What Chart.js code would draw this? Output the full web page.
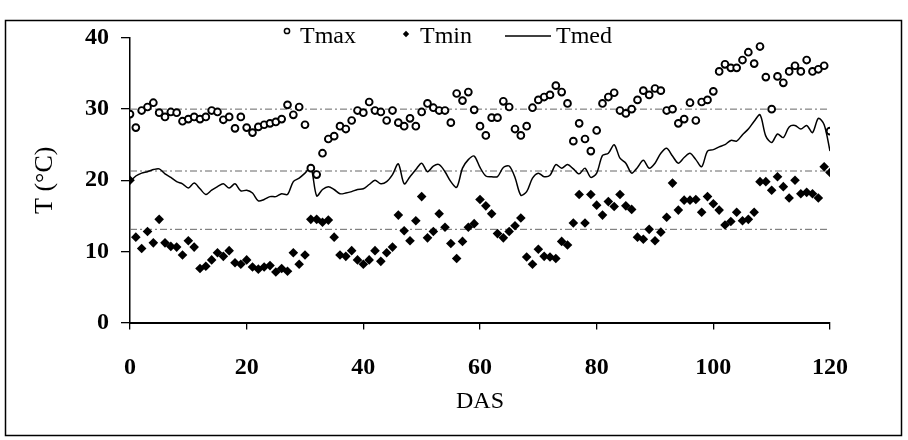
<!DOCTYPE html>
<html><head><meta charset="utf-8">
<script src="https://cdn.jsdelivr.net/npm/chart.js@4.4.0/dist/chart.umd.min.js"></script>
<style>
html,body{margin:0;padding:0;background:#fff;}
#wrap{position:relative;width:908px;height:440px;}
canvas{display:block;}
</style></head><body>
<div id="wrap"><canvas id="c" width="908" height="440"></canvas></div>
<script>
// Days after sowing (categories)
const days = Array.from({length: 121}, (_, i) => i);

const tmax = [
29.3, 27.4, 29.8, 30.3, 30.9, 29.5, 28.9, 29.6, 29.5, 28.3,
28.6, 28.9, 28.6, 28.9, 29.8, 29.6, 28.5, 28.9, 27.3, 28.9,
27.4, 26.7, 27.5, 27.8, 28.0, 28.2, 28.6, 30.6, 29.2, 30.3,
27.8, 21.7, 20.8, 23.8, 25.8, 26.2, 27.6, 27.2, 28.4, 29.8,
29.5, 31.0, 29.8, 29.6, 28.4, 29.8, 28.1, 27.6, 28.7, 27.6,
29.6, 30.8, 30.2, 29.8, 29.8, 28.1, 32.2, 31.2, 32.4, 29.9,
27.6, 26.3, 28.8, 28.8, 31.1, 30.3, 27.2, 26.3, 27.6, 30.2,
31.3, 31.7, 32.0, 33.3, 32.4, 30.8, 25.5, 28.0, 25.8, 24.1,
27.0, 30.8, 31.7, 32.3, 29.8, 29.4, 30.0, 31.3, 32.6, 32.0,
32.9, 32.6, 29.8, 30.0, 28.0, 28.6, 30.9, 28.4, 31.0, 31.3,
32.5, 35.3, 36.3, 35.8, 35.8, 36.9, 38.0, 36.4, 38.8, 34.5,
30.0, 34.6, 33.7, 35.3, 36.1, 35.3, 36.9, 35.3, 35.6, 36.1,
26.9];

const tmin = [
20.0, 12.0, 10.4, 12.8, 11.2, 14.5, 11.2, 10.7, 10.6, 9.5,
11.5, 10.6, 7.6, 7.9, 8.8, 9.8, 9.3, 10.1, 8.4, 8.2,
8.8, 7.8, 7.5, 7.8, 8.0, 7.1, 7.6, 7.2, 9.8, 8.2,
9.5, 14.5, 14.5, 14.1, 14.4, 12.0, 9.5, 9.3, 10.1, 8.8,
8.2, 8.8, 10.1, 8.6, 9.8, 10.6, 15.1, 12.9, 11.5, 14.3,
17.7, 11.9, 12.8, 15.3, 13.4, 11.1, 9.0, 11.4, 13.4, 13.9,
17.3, 16.4, 15.3, 12.5, 11.9, 12.8, 13.6, 14.7, 9.2, 8.2,
10.3, 9.3, 9.2, 9.0, 11.4, 10.9, 14.0, 18.0, 14.0, 18.0,
16.5, 15.1, 17.0, 16.3, 18.0, 16.4, 15.9, 12.0, 11.7, 13.1,
11.5, 12.7, 14.8, 19.6, 15.8, 17.2, 17.2, 17.3, 15.5, 17.7,
16.7, 15.8, 13.7, 14.2, 15.5, 14.3, 14.5, 15.5, 19.8, 19.8,
18.6, 20.5, 19.1, 17.5, 20.0, 18.1, 18.3, 18.1, 17.5, 21.9,
21.1];

const tmed = [
19.8, 20.6, 21.0, 21.2, 21.5, 21.6, 20.9, 20.4, 19.8, 19.5,
18.9, 19.6, 18.8, 18.0, 18.6, 19.1, 19.5, 18.9, 19.5, 18.5,
18.6, 18.2, 17.1, 17.3, 17.7, 17.7, 18.1, 18.0, 19.8, 20.3,
21.0, 21.8, 17.8, 18.7, 19.1, 18.7, 18.1, 18.2, 18.4, 18.7,
18.8, 19.4, 20.0, 19.5, 19.8, 20.8, 22.3, 19.5, 20.5, 21.5,
22.4, 21.2, 22.0, 22.2, 21.2, 19.8, 19.0, 21.7, 22.9, 23.4,
21.8, 20.6, 20.5, 20.5, 21.8, 22.0, 20.4, 17.9, 18.4, 20.3,
21.0, 20.5, 20.7, 22.2, 21.7, 22.2, 21.6, 20.9, 21.7, 20.4,
21.0, 23.5, 23.8, 25.0, 23.1, 22.4, 21.0, 21.8, 22.8, 21.7,
22.4, 23.8, 24.5, 23.4, 22.4, 23.2, 23.8, 22.9, 21.9, 24.1,
24.3, 24.7, 25.0, 25.6, 25.5, 26.4, 27.2, 28.3, 29.2, 26.2,
25.3, 26.5, 26.0, 27.5, 27.7, 27.2, 27.7, 26.7, 28.7, 27.8,
24.1];

// Reference (mean) lines: Tmax, Tmed, Tmin
const meanValues = [30.0, 21.3, 13.1];
const seriesNames = ['Tmax', 'Tmin', 'Tmed'];
const xRange = [0, 120];
const yRange = [0, 40];

const FAMILY = "'Liberation Serif', 'Times New Roman', Tinos, serif";

const toPts = arr => arr.map((v, i) => ({x: days[i], y: v}));

function build() {
  const meanSets = meanValues.map(v => ({
    type: 'line',
    label: 'mean ' + v,
    data: [{x: xRange[0], y: v}, {x: xRange[1], y: v}],
    borderColor: '#666',
    borderWidth: 1,
    borderDash: [7, 3, 2, 3],
    pointRadius: 0,
    fill: false
  }));

  const borderPlugin = {
    id: 'figBorder',
    beforeDraw(chart) {
      const ctx = chart.ctx;
      ctx.save();
      ctx.fillStyle = '#fff';
      ctx.fillRect(0, 0, chart.width, chart.height);
      ctx.strokeStyle = '#000';
      ctx.lineWidth = 1.5;
      ctx.strokeRect(5.5, 20.5, 896, 415);
      ctx.restore();
    }
  };

  const legendPlugin = {
    id: 'figLegend',
    afterDraw(chart) {
      const ctx = chart.ctx;
      ctx.save();
      ctx.font = '24px ' + FAMILY;
      ctx.textBaseline = 'middle';
      ctx.textAlign = 'left';
      ctx.fillStyle = '#fff'; ctx.strokeStyle = '#000'; ctx.lineWidth = 1.5;
      Chart.helpers.drawPoint(ctx, {pointStyle: 'circle', radius: 2.6, borderWidth: 1.5}, 287, 31);
      ctx.fillStyle = '#000';
      ctx.fillText(seriesNames[0], 300, 37);
      Chart.helpers.drawPoint(ctx, {pointStyle: 'rectRot', radius: 3.2, borderWidth: 0}, 406, 34);
      ctx.fillText(seriesNames[1], 420, 37);
      ctx.beginPath(); ctx.moveTo(505, 36); ctx.lineTo(551, 36); ctx.lineWidth = 1.3; ctx.stroke();
      ctx.fillText(seriesNames[2], 556, 37);
      ctx.restore();
    }
  };

  new Chart(document.getElementById('c'), {
    type: 'scatter',
    data: {
      datasets: [
        {
          label: seriesNames[0],
          data: toPts(tmax),
          pointStyle: 'circle',
          pointRadius: 3.4,
          pointBorderWidth: 1.9,
          pointBackgroundColor: '#fff',
          pointBorderColor: '#000',
          showLine: false
        },
        {
          label: seriesNames[1],
          data: toPts(tmin),
          pointStyle: 'rectRot',
          pointRadius: 4.8,
          pointBorderWidth: 0,
          pointBackgroundColor: '#000',
          pointBorderColor: '#000',
          showLine: false
        },
        {
          type: 'line',
          label: seriesNames[2],
          data: toPts(tmed),
          borderColor: '#000',
          borderWidth: 1.5,
          pointRadius: 0,
          tension: 0.3,
          fill: false
        },
        ...meanSets
      ]
    },
    options: {
      responsive: false,
      animation: false,
      devicePixelRatio: 1,
      layout: {padding: {left: 0, top: 38, right: 78, bottom: 0}},
      plugins: {legend: {display: false}, tooltip: {enabled: false}},
      scales: {
        x: {
          type: 'linear',
          min: xRange[0], max: xRange[1],
          afterFit: s => { s.height = 117.5; },
          ticks: {
            stepSize: 20, color: '#000', padding: 24, maxRotation: 0,
            font: {family: FAMILY, size: 24, weight: 'bold'}
          },
          grid: {drawOnChartArea: false, drawTicks: true, tickLength: 7, color: '#000', lineWidth: 1.3},
          border: {display: true, color: '#000', width: 2},
          title: {
            display: true, text: 'DAS', color: '#000',
            font: {family: FAMILY, size: 24},
            padding: {top: 0, bottom: 24}
          }
        },
        y: {
          type: 'linear',
          min: yRange[0], max: yRange[1],
          afterFit: s => { s.width = 130; },
          ticks: {
            stepSize: 10, color: '#000', padding: 12,
            font: {family: FAMILY, size: 24, weight: 'bold'}
          },
          grid: {drawOnChartArea: false, drawTicks: true, tickLength: 9, color: '#000', lineWidth: 1.3},
          border: {display: true, color: '#000', width: 1.5},
          title: {
            display: true, text: 'T (°C)', color: '#000',
            font: {family: FAMILY, size: 26},
            padding: {top: 30, bottom: 0}
          }
        }
      }
    },
    plugins: [borderPlugin, legendPlugin]
  });
}

const loads = [
  "24px 'Liberation Serif'", "bold 24px 'Liberation Serif'"
].map(f => (document.fonts && document.fonts.load) ? document.fonts.load(f).catch(() => null) : Promise.resolve());
Promise.all(loads).then(build, build);
</script>
</body></html>
